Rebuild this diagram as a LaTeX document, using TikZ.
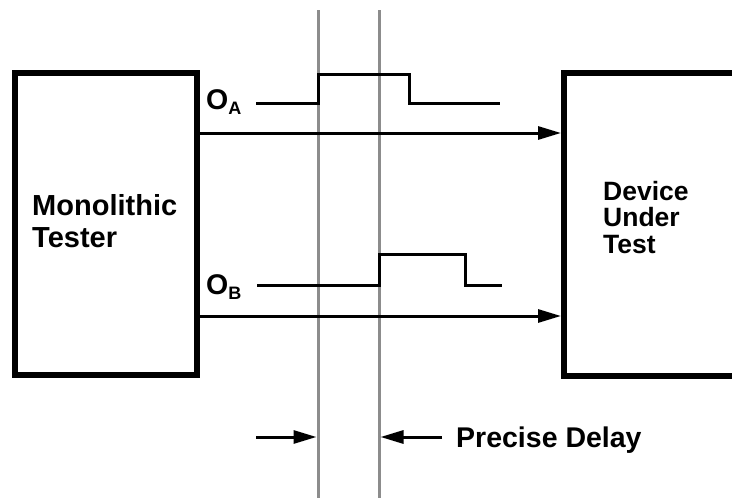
\documentclass[tikz,border=0pt]{standalone}
\usepackage{fontspec}
\setmainfont{Liberation Sans}
\usetikzlibrary{arrows.meta}
\definecolor{guide}{RGB}{140,140,140}
\begin{document}
\begin{tikzpicture}[x=1pt,y=-1pt,
  box/.style={draw=black, line width=6pt, inner sep=0pt},
  sig/.style={line width=3pt, line cap=butt, line join=miter},
  conn/.style={line width=3pt, -{Triangle[length=23pt,width=13pt]}},
  guideline/.style={draw=guide, line width=3pt},
  lbl/.style={inner sep=0pt, anchor=base west, font=\fontsize{28.5}{32}\selectfont\bfseries, align=left},
]
\useasboundingbox (0,0) rectangle (732,498);
\clip (0,0) rectangle (732,498);
% guide lines
\coordinate (g1t) at (318,10);
\coordinate (g1b) at (318,500);
\coordinate (g2t) at (379,10);
\coordinate (g2b) at (379,500);
\draw[guideline] (g1t) -- (g1b);
\draw[guideline] (g2t) -- (g2b);
% boxes
\node[box, minimum width=182pt, minimum height=302pt] (tester) at (106,224) {};
\node[box, minimum width=240pt, minimum height=303pt, anchor=west] (dut) at (561,224.5) {};
\node[lbl, font=\fontsize{29}{32}\selectfont\bfseries] (testertext) at (32,247) {Monolithic\\Tester};
\node[lbl, font=\fontsize{26.5}{26.5}\selectfont\bfseries] (duttext) at (603,253) {Device\\Under\\Test};
% signal labels
\node[lbl] (oa) at (206,109) {O{\fontsize{18}{18}\selectfont\raisebox{-5pt}{A}}};
\node[lbl] (ob) at (206,294) {O{\fontsize{18}{18}\selectfont\raisebox{-5pt}{B}}};
% waveforms
\draw[sig] (256,103) -- (g1t |- 0,103) -- (g1t |- 0,74) -- (409,74) -- (409,103) -- (500,103);
\draw[sig] (257,285) -- (g2t |- 0,285) -- (g2t |- 0,254) -- (465,254) -- (465,285) -- (502,285);
% connectors
\draw[conn] (tester.east |- 0,133) -- (dut.west |- 0,133);
\draw[conn] (tester.east |- 0,316) -- (dut.west |- 0,316);
% delay marks
\coordinate (dl) at (256,437);
\coordinate (dr) at (442,437);
\draw[conn] (dl) -- (316.5,437);
\draw[conn] (dr) -- (380.5,437);
\node[lbl] (pd) at (456,447) {Precise Delay};
\end{tikzpicture}
\end{document}
